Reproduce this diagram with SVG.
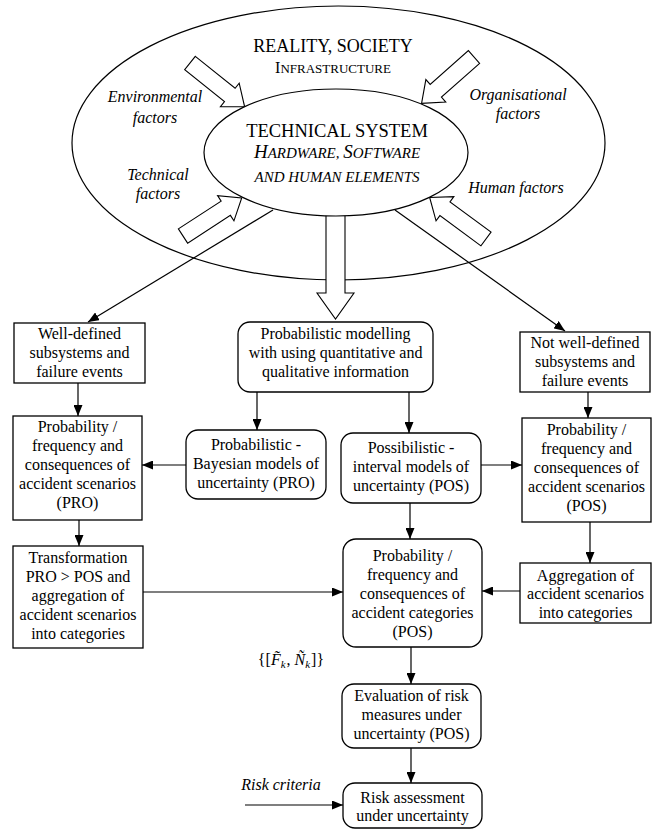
<svg xmlns="http://www.w3.org/2000/svg" width="655" height="830" viewBox="0 0 655 830">
  <style>
    .t { font-family: "Liberation Serif", "Times New Roman", serif; font-size: 16px; fill: #000; text-anchor: middle; }
    .i { font-style: italic; }
    .box { fill: #fff; stroke: #000; stroke-width: 1.3; }
    .ell { fill: #fff; stroke: #000; stroke-width: 1.2; }
    .blk { fill: #fff; stroke: #000; stroke-width: 1.1; stroke-linejoin: miter; }
    .con { fill: none; stroke: #000; stroke-width: 1.2; marker-end: url(#head); }
  </style>
  <defs>
    <marker id="head" markerUnits="userSpaceOnUse" markerWidth="11" markerHeight="9" refX="11" refY="4.5" orient="auto">
      <path d="M0,0 L11,4.5 L0,9 Z" fill="#000"/>
    </marker>
    <!-- hollow block arrow pointing along +x, tail at origin -->
    <path id="blockArrow" d="M0,-8.5 L51,-8.5 L51,-15 L70,0 L51,15 L51,8.5 L0,8.5 Z"/>
  </defs>

  <!-- outer context -->
  <g id="reality">
    <ellipse class="ell" cx="338.5" cy="143" rx="266.5" ry="137"/>
    <text class="t" x="333" y="52" style="font-size:18px">REALITY, SOCIETY</text>
    <text class="t" x="333" y="73" style="font-size:13px"><tspan style="font-size:16px">I</tspan>NFRASTRUCTURE</text>
  </g>

  <g id="factor-labels">
    <text class="t i" x="155" y="102">Environmental</text>
    <text class="t i" x="155" y="123">factors</text>
    <text class="t i" x="158" y="180">Technical</text>
    <text class="t i" x="158" y="199">factors</text>
    <text class="t i" x="518" y="100">Organisational</text>
    <text class="t i" x="518" y="119">factors</text>
    <text class="t i" x="516" y="193">Human factors</text>
  </g>

  <g id="factor-arrows">
    <use href="#blockArrow" class="blk" transform="translate(190,63) rotate(38.7)"/>
    <use href="#blockArrow" class="blk" transform="translate(183,236) rotate(-33)"/>
    <use href="#blockArrow" class="blk" transform="translate(474,57) rotate(138.5)"/>
    <use href="#blockArrow" class="blk" transform="translate(486,239) rotate(216.4)"/>
  </g>

  <!-- connectors -->
  <g id="connectors">
    <line class="con" x1="273" y1="210" x2="88" y2="322"/>
    <line class="con" x1="395" y1="210" x2="565" y2="331"/>
    <line class="con" x1="78" y1="383" x2="78" y2="416"/>
    <line class="con" x1="79" y1="520" x2="79" y2="546"/>
    <line class="con" x1="257" y1="392" x2="257" y2="430"/>
    <line class="con" x1="409" y1="392" x2="409" y2="433"/>
    <line class="con" x1="186" y1="465" x2="142" y2="465"/>
    <line class="con" x1="481" y1="465" x2="522" y2="465"/>
    <line class="con" x1="588" y1="392" x2="588" y2="418"/>
    <line class="con" x1="590" y1="522" x2="590" y2="563"/>
    <line class="con" x1="143" y1="592" x2="343" y2="592"/>
    <line class="con" x1="520" y1="591" x2="482" y2="591"/>
    <line class="con" x1="410" y1="503" x2="410" y2="539"/>
    <line class="con" x1="411" y1="647" x2="411" y2="684"/>
    <line class="con" x1="411" y1="748" x2="411" y2="783"/>
    <line class="con" x1="245" y1="805" x2="343" y2="805"/>
  </g>

  <g id="output-arrow">
    <polygon class="blk" points="326,214 326,293 317,293 335.5,319 354,293 345,293 345,214"/>
  </g>

  <g id="technical-system">
    <ellipse class="ell" cx="336" cy="152.5" rx="132" ry="63.5"/>
    <text class="t" x="337" y="137" style="font-size:18.5px">TECHNICAL SYSTEM</text>
    <text class="t i" x="337" y="158" style="font-size:15px"><tspan style="font-size:19px">H</tspan>ARDWARE, <tspan style="font-size:19px">S</tspan>OFTWARE</text>
    <text class="t i" x="337" y="182" style="font-size:15px">AND HUMAN ELEMENTS</text>
  </g>

  <g id="well-defined">
    <rect class="box" x="14" y="323" width="131" height="60"/>
    <text class="t" x="79.5" y="339">Well-defined</text>
    <text class="t" x="79.5" y="358">subsystems and</text>
    <text class="t" x="79.5" y="377">failure events</text>
  </g>

  <g id="scenarios-pro">
    <rect class="box" x="13" y="416" width="129" height="104"/>
    <text class="t" x="77.5" y="432">Probability /</text>
    <text class="t" x="77.5" y="451">frequency and</text>
    <text class="t" x="77.5" y="470">consequences of</text>
    <text class="t" x="77.5" y="489">accident scenarios</text>
    <text class="t" x="77.5" y="508">(PRO)</text>
  </g>

  <g id="transformation">
    <rect class="box" x="13" y="546" width="130" height="102"/>
    <text class="t" x="78" y="563">Transformation</text>
    <text class="t" x="78" y="582">PRO &gt; POS and</text>
    <text class="t" x="78" y="601">aggregation of</text>
    <text class="t" x="78" y="620">accident scenarios</text>
    <text class="t" x="78" y="639">into categories</text>
  </g>

  <g id="modelling">
    <rect class="box" x="238" y="322" width="195" height="70" rx="12"/>
    <text class="t" x="335.5" y="339">Probabilistic modelling</text>
    <text class="t" x="335.5" y="358">with using quantitative and</text>
    <text class="t" x="335.5" y="377">qualitative information</text>
  </g>

  <g id="bayesian">
    <rect class="box" x="186" y="430" width="140" height="69" rx="12"/>
    <text class="t" x="256" y="450">Probabilistic -</text>
    <text class="t" x="256" y="469">Bayesian models of</text>
    <text class="t" x="256" y="488">uncertainty (PRO)</text>
  </g>

  <g id="possibilistic">
    <rect class="box" x="341" y="433" width="140" height="70" rx="12"/>
    <text class="t" x="411" y="453">Possibilistic -</text>
    <text class="t" x="411" y="472">interval models of</text>
    <text class="t" x="411" y="491">uncertainty (POS)</text>
  </g>

  <g id="not-well-defined">
    <rect class="box" x="520" y="332" width="130" height="60"/>
    <text class="t" x="585" y="348">Not well-defined</text>
    <text class="t" x="585" y="367">subsystems and</text>
    <text class="t" x="585" y="386">failure events</text>
  </g>

  <g id="scenarios-pos">
    <rect class="box" x="522" y="418" width="129" height="104"/>
    <text class="t" x="586.5" y="435">Probability /</text>
    <text class="t" x="586.5" y="454">frequency and</text>
    <text class="t" x="586.5" y="473">consequences of</text>
    <text class="t" x="586.5" y="492">accident scenarios</text>
    <text class="t" x="586.5" y="511">(POS)</text>
  </g>

  <g id="aggregation">
    <rect class="box" x="520" y="563" width="131" height="60"/>
    <text class="t" x="585.5" y="581">Aggregation of</text>
    <text class="t" x="585.5" y="599">accident scenarios</text>
    <text class="t" x="585.5" y="618">into categories</text>
  </g>

  <g id="categories">
    <rect class="box" x="343" y="539" width="139" height="108" rx="13"/>
    <text class="t" x="412.5" y="561">Probability /</text>
    <text class="t" x="412.5" y="580">frequency and</text>
    <text class="t" x="412.5" y="599">consequences of</text>
    <text class="t" x="412.5" y="618">accident categories</text>
    <text class="t" x="412.5" y="637">(POS)</text>
  </g>

  <g id="category-set">
    <text class="t" x="291" y="665">{[<tspan class="i">F&#771;</tspan><tspan class="i" style="font-size:11px" dy="3">k</tspan><tspan dy="-3" dx="1">, </tspan><tspan class="i">Ñ</tspan><tspan class="i" style="font-size:11px" dy="3">k</tspan><tspan dy="-3" dx="1">]}</tspan></text>
  </g>

  <g id="evaluation">
    <rect class="box" x="342" y="684" width="139" height="64" rx="12"/>
    <text class="t" x="411.5" y="701">Evaluation of risk</text>
    <text class="t" x="411.5" y="720">measures under</text>
    <text class="t" x="411.5" y="739">uncertainty (POS)</text>
  </g>

  <g id="risk-assessment">
    <rect class="box" x="343" y="783" width="139" height="45" rx="12"/>
    <text class="t" x="412.5" y="803">Risk assessment</text>
    <text class="t" x="412.5" y="821">under uncertainty</text>
  </g>

  <g id="risk-criteria">
    <text class="t i" x="281" y="790">Risk criteria</text>
  </g>
</svg>
